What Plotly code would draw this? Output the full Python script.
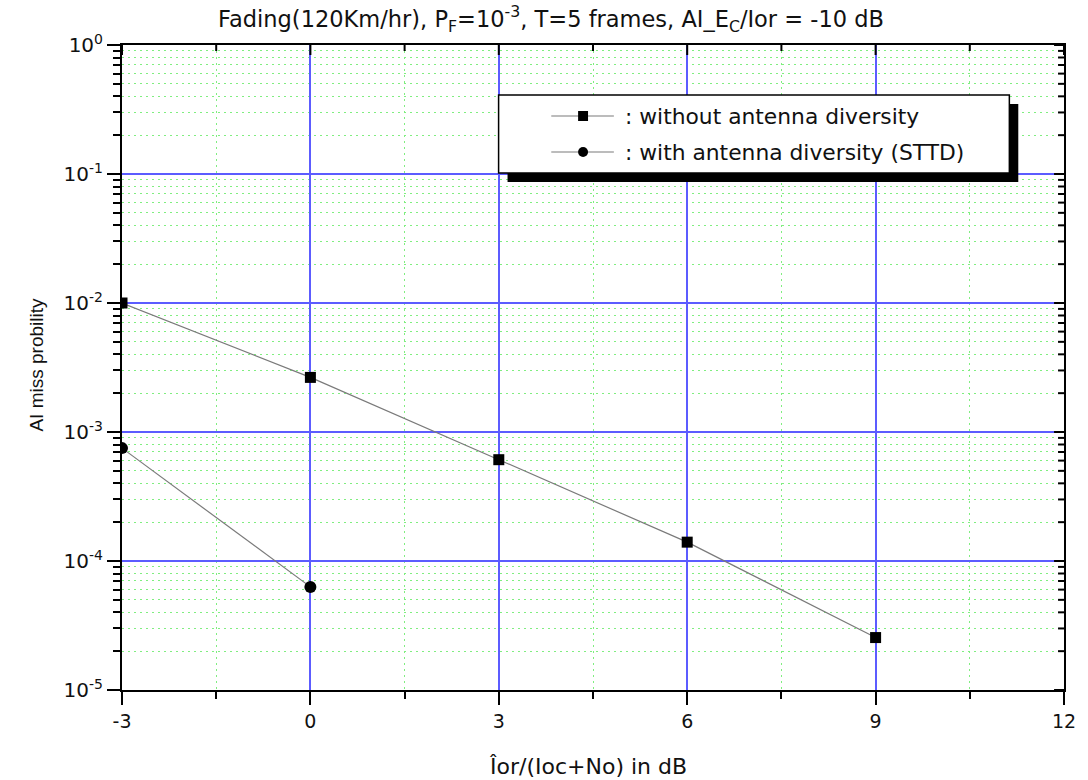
import math
import plotly.graph_objects as go

# Measured detection performance
snr_db = [-3, 0, 3, 6, 9]
miss_no_div = [1.0e-2, 2.65e-3, 6.1e-4, 1.4e-4, 2.55e-5]
snr_db_sttd = [-3, 0]
miss_sttd = [7.5e-4, 6.3e-5]

x_ticks = [-3, 0, 3, 6, 9, 12]
y_exps = [-5, -4, -3, -2, -1, 0]
legend_labels = [": without antenna diversity", ": with antenna diversity (STTD)"]

W, H = 1088, 780
L, R, T, B = 122, 18, 45, 90
PLOT_W, PLOT_H = W - L - R, H - T - B
FONT = "DejaVu Sans, Liberation Sans, sans-serif"
FONT_NARROW = "Liberation Sans, Arial, sans-serif"
MAJOR_GRID = "#5c5cff"
MINOR_GRID = "#80ee80"
MINOR_DASH = "2px,4px"
X_RANGE = [-3, 12]
Y_RANGE = [-5, 0]


def px(xp):
    return (xp - L) / PLOT_W


def py(yp):
    return (H - B - yp) / PLOT_H


y_tickvals = [10.0 ** e for e in y_exps]
y_ticktext = [f"10<sup>{e}</sup>" for e in y_exps]
y_minor = [m * 10.0 ** e for e in y_exps[:-1] for m in range(2, 10)]
x_minor = [X_RANGE[0] + 1.5 * k for k in range(int((X_RANGE[1] - X_RANGE[0]) / 1.5) + 1)]
x_minor = [v for v in x_minor if v not in x_ticks]

fig = go.Figure()
fig.add_trace(go.Scatter(
    x=snr_db, y=miss_no_div, mode="lines+markers",
    line=dict(color="#7a7a7a", width=1.2),
    marker=dict(symbol="square", size=11, color="black"),
    showlegend=False,
))
fig.add_trace(go.Scatter(
    x=snr_db_sttd, y=miss_sttd, mode="lines+markers",
    line=dict(color="#7a7a7a", width=1.2),
    marker=dict(symbol="circle", size=12, color="black"),
    showlegend=False,
))

fig.update_layout(
    width=W, height=H,
    margin=dict(l=L, r=R, t=T, b=B),
    paper_bgcolor="white", plot_bgcolor="white",
    font=dict(family=FONT, color="#111", size=19),
    title=dict(
        text="Fading(120Km/hr), P<sub>F</sub>=10<sup>-3</sup>, T=5 frames, AI_E<sub>C</sub>/Ior = -10 dB",
        x=551 / W, xanchor="center", xref="container",
        y=1 - 19 / H, yanchor="middle", yref="container",
        font=dict(size=22.5, family=FONT, color="#111"),
    ),
    xaxis=dict(
        range=X_RANGE, tickmode="array", tickvals=x_ticks,
        ticktext=[str(v) for v in x_ticks],
        showline=True, linecolor="black", linewidth=2, mirror=True,
        ticks="outside", ticklen=13, tickwidth=2, tickcolor="black",
        showgrid=True, gridcolor=MAJOR_GRID, gridwidth=1.5,
        zeroline=False,
        tickfont=dict(size=19),
        minor=dict(tickvals=x_minor, ticks="outside", ticklen=7,
                   tickwidth=2, tickcolor="black",
                   showgrid=True, gridcolor=MINOR_GRID, griddash=MINOR_DASH, gridwidth=1),
    ),
    yaxis=dict(
        type="log", range=Y_RANGE, tickmode="array",
        tickvals=y_tickvals, ticktext=y_ticktext,
        showline=True, linecolor="black", linewidth=2, mirror=True,
        ticks="outside", ticklen=13, tickwidth=2, tickcolor="black",
        showgrid=True, gridcolor=MAJOR_GRID, gridwidth=1.5,
        zeroline=False,
        tickfont=dict(size=20),
        minor=dict(tickvals=y_minor, ticks="outside", ticklen=7,
                   tickwidth=2, tickcolor="black",
                   showgrid=True, gridcolor=MINOR_GRID, griddash=MINOR_DASH, gridwidth=1),
    ),
)

# inward ticks along the top edge of the frame
for v in x_ticks + x_minor:
    length = 10 if v in x_ticks else 6
    fig.add_shape(type="line", xref="x", yref="y domain",
                  x0=v, x1=v, y0=1, y1=1 - length / PLOT_H,
                  line=dict(color="black", width=2))

# inward ticks along the right edge of the frame
for v in y_tickvals + y_minor:
    length = 10 if v in y_tickvals else 6
    frac = (math.log10(v) - Y_RANGE[0]) / (Y_RANGE[1] - Y_RANGE[0])
    fig.add_shape(type="line", xref="x domain", yref="y domain",
                  x0=1, x1=1 - length / PLOT_W, y0=frac, y1=frac,
                  line=dict(color="black", width=2))

# axis titles
fig.add_annotation(
    text="AI miss probility", textangle=-90,
    xref="paper", yref="paper", x=px(35), y=py(365),
    xanchor="center", yanchor="middle", showarrow=False,
    font=dict(size=19, family=FONT_NARROW, color="#111"),
)
fig.add_annotation(
    text="Îor/(Ioc+No) in dB",
    xref="paper", yref="paper", x=px(591), y=py(766),
    xanchor="center", yanchor="middle", showarrow=False,
    font=dict(size=22, family=FONT, color="#111"),
)

# legend box with drop shadow
box_x0, box_y0, box_x1, box_y1 = 501, 95, 1015, 173
shadow = 9
fig.add_shape(type="rect", xref="paper", yref="paper",
              x0=px(box_x0 + shadow), x1=px(box_x1 + shadow),
              y0=py(box_y1 + shadow), y1=py(box_y0 + shadow),
              fillcolor="black", line=dict(width=0), layer="above")
fig.add_shape(type="rect", xref="paper", yref="paper",
              x0=px(box_x0), x1=px(box_x1), y0=py(box_y1), y1=py(box_y0),
              fillcolor="white", line=dict(color="black", width=1.5), layer="above")

entry_y = [116, 152]
symbols = ["square", "circle"]
for yy, sym, label in zip(entry_y, symbols, legend_labels):
    fig.add_shape(type="line", xref="paper", yref="paper",
                  x0=px(554), x1=px(617), y0=py(yy), y1=py(yy),
                  line=dict(color="#7a7a7a", width=1.2), layer="above")
    r = 5
    fig.add_shape(type="rect" if sym == "square" else "circle",
                  xref="paper", yref="paper",
                  x0=px(586 - r), x1=px(586 + r), y0=py(yy + r), y1=py(yy - r),
                  fillcolor="black", line=dict(width=0), layer="above")
    fig.add_annotation(text=label, xref="paper", yref="paper",
                       x=px(626), y=py(yy), xanchor="left", yanchor="middle",
                       showarrow=False,
                       font=dict(size=21.8, family=FONT, color="#111"))

fig.write_html("out.html")
